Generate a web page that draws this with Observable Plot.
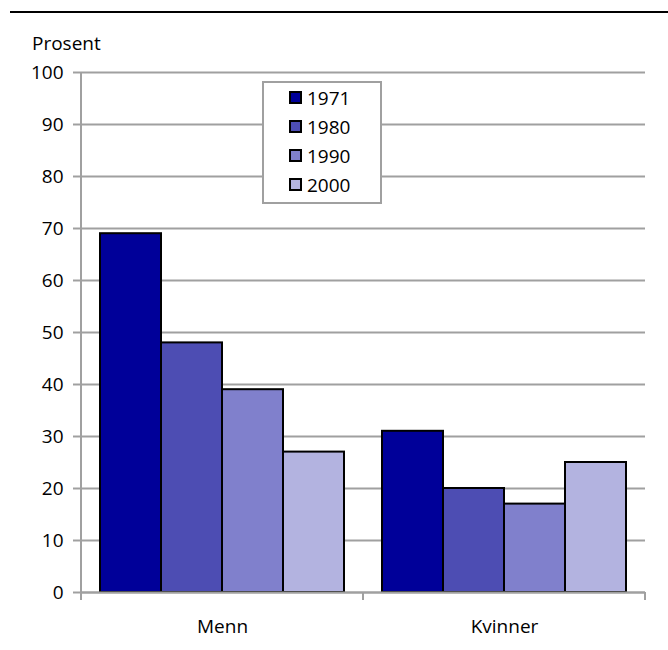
<!DOCTYPE html>
<html><head><meta charset="utf-8">
<script src="https://cdn.jsdelivr.net/npm/d3@7"></script>
<script src="https://cdn.jsdelivr.net/npm/@observablehq/plot@0.6"></script>
<style>
body{margin:0;background:#fff;font-family:"Open Sans",sans-serif;color:#000;}
#wrap{position:relative;width:668px;height:650px;overflow:hidden;}
#head{position:relative;height:60px;}
#rule{position:absolute;left:10px;right:0;top:11px;height:0;border-top:2.5px solid #000;}
#unit{position:absolute;left:32px;top:34px;font-size:19px;line-height:18px;}
#legend{position:absolute;left:262px;top:81px;width:116px;height:119px;border:2px solid #a0a0a0;background:#fff;}
.row{display:flex;align-items:center;height:29px;padding-left:25px;font-size:19px;line-height:18px;}
.sw{width:9px;height:9px;border:2px solid #000;margin-right:5px;flex:none;}
</style></head><body>
<div id="wrap">
  <div id="head"><div id="rule"></div><div id="unit"></div></div>
  <div id="chart"></div>
  <div id="legend"></div>
</div>
<script>
const unitLabel = "Prosent";
const categories = ["Menn", "Kvinner"];
const years = ["1971", "1980", "1990", "2000"];
const menn = [69, 48, 39, 27];
const kvinner = [31, 20, 17, 25];
const yearColors = ["#000099", "#4d4db3", "#8080cc", "#b3b3e0"];
const yTicks = [0, 10, 20, 30, 40, 50, 60, 70, 80, 90, 100];

const seriesByCat = {Menn: menn, Kvinner: kvinner};
const data = categories.flatMap(c => years.map((yr, j) => ({kjonn: c, aar: yr, verdi: seriesByCat[c][j]})));

document.getElementById("unit").textContent = unitLabel;

const grey = "#a0a0a0";
const chart = Plot.plot({
  width: 668,
  height: 590,
  marginLeft: 81,
  marginRight: 23,
  marginTop: 12,
  marginBottom: 58,
  style: {fontFamily: "'Open Sans', sans-serif", fontSize: "19px", background: "#fff", color: "#000", overflow: "visible"},
  fx: {domain: categories, paddingInner: 0, paddingOuter: 0, label: null},
  x: {domain: years, paddingInner: 0, paddingOuter: 0.29, axis: null},
  y: {domain: [0, 100], label: null},
  color: {domain: years, range: yearColors},
  marks: [
    Plot.gridY(yTicks, {stroke: grey, strokeOpacity: 1, strokeWidth: 2}),
    Plot.barY(data, {fx: "kjonn", x: "aar", y: "verdi", fill: "aar", stroke: "#000", strokeWidth: 2}),
    Plot.ruleY([0], {stroke: grey, strokeWidth: 2}),
    Plot.axisY(yTicks, {tickSize: 8, tickPadding: 10, stroke: grey, strokeWidth: 2, fontSize: 19, label: null}),
    Plot.axisFx({anchor: "bottom", tickSize: 0, tickPadding: 27, fontSize: 19, label: null})
  ]
});
document.getElementById("chart").appendChild(chart);

// y-axis line and category boundary ticks, placed through Plot's own scales
const ys = chart.scale("y"), fxs = chart.scale("fx");
const y0 = ys.apply(0), yTop = ys.apply(100);
const bounds = fxs.domain.map(d => fxs.apply(d)).concat([fxs.range[1]]);
const g = d3.select(chart).append("g").attr("stroke", grey).attr("stroke-width", 2);
g.append("line").attr("x1", bounds[0]).attr("x2", bounds[0]).attr("y1", yTop).attr("y2", y0 + 8);
bounds.forEach(b => g.append("line").attr("x1", b).attr("x2", b).attr("y1", y0).attr("y2", y0 + 8));

// legend
const leg = d3.select("#legend");
years.forEach((yr, i) => {
  const row = leg.append("div").attr("class", "row");
  row.append("div").attr("class", "sw").style("background", yearColors[i]);
  row.append("span").text(yr);
});
</script>
</body></html>
